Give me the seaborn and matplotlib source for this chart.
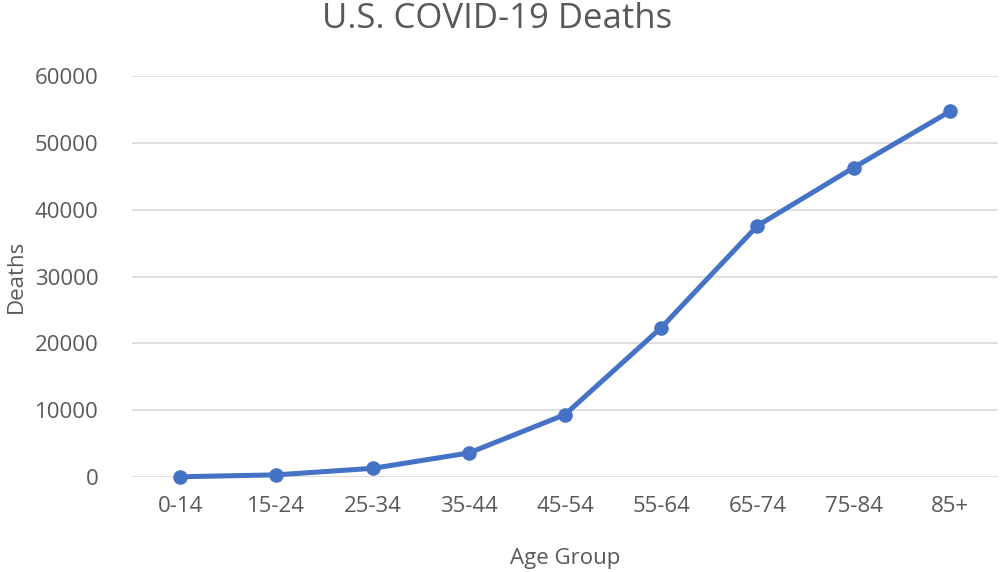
import pandas as pd
import matplotlib.pyplot as plt
import seaborn as sns

# values
age_groups = ["0-14", "15-24", "25-34", "35-44", "45-54", "55-64", "65-74", "75-84", "85+"]
deaths = [40, 330, 1300, 3600, 9350, 22350, 37600, 46300, 54700]
y_ticks = [0, 10000, 20000, 30000, 40000, 50000, 60000]

sns.set_style("white")
plt.rcParams["font.family"] = ["Open Sans", "DejaVu Sans"]

text_color = "#595959"
line_color = "#4472C4"


def main():
    df = pd.DataFrame({"Age Group": age_groups, "Deaths": deaths})

    fig = plt.figure(figsize=(10, 5.72), dpi=100)
    ax = fig.add_axes([0.132, 0.166, 0.866, 0.701])

    sns.lineplot(x="Age Group", y="Deaths", data=df, sort=False, ax=ax,
                 color=line_color, linewidth=3.6, marker="o", markersize=10.5,
                 markeredgewidth=0, zorder=3, clip_on=False)

    ax.set_xlim(-0.5, len(age_groups) - 0.5)
    ax.set_ylim(0, 60000)
    ax.set_yticks(y_ticks)
    ax.set_yticklabels([str(v) for v in y_ticks])

    ax.grid(axis="y", color="#D9D9D9", linewidth=1.2)
    ax.grid(axis="x", visible=False)
    for side in ["top", "right", "left", "bottom"]:
        ax.spines[side].set_visible(False)
    ax.tick_params(axis="both", length=0, labelsize=16, labelcolor=text_color)
    ax.tick_params(axis="y", pad=24)
    ax.tick_params(axis="x", pad=14)

    # title is centred on the whole figure, as in Excel
    fig.text(0.497, 0.966, "U.S. COVID-19 Deaths", fontsize=25, color=text_color,
             ha="center", va="center")
    ax.set_xlabel("Age Group", fontsize=16, color=text_color, labelpad=22)
    ax.set_ylabel("")
    fig.text(0.016, 0.517, "Deaths", fontsize=16, color=text_color,
             rotation=90, ha="center", va="center")

    fig.savefig("out.png", dpi=100)


if __name__ == "__main__":
    main()
